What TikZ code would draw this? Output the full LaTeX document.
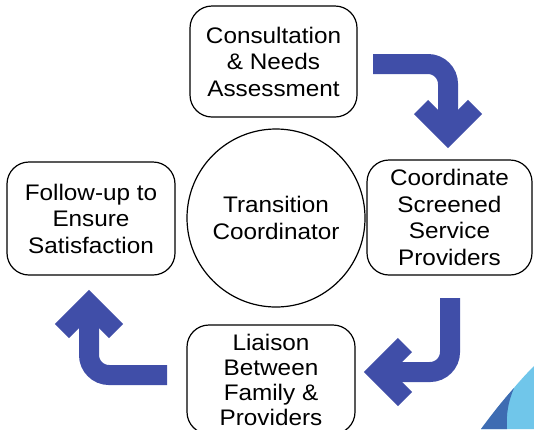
\documentclass[tikz,border=0pt]{standalone}
\usepackage{fontspec}
\setmainfont[FakeStretch=1.08]{Liberation Sans}
\definecolor{arrowblue}{RGB}{64,78,168}
\definecolor{swooshlight}{RGB}{112,198,234}
\definecolor{swooshdark}{RGB}{62,108,178}
\tikzset{
  stagebox/.style={draw=black, line width=1.2pt, rounded corners=22pt, align=center,
    inner sep=0pt, font=\fontsize{22.5}{26.5}\selectfont},
  hubcircle/.style={draw=black, line width=1.2pt, circle, align=center, inner sep=0pt,
    minimum size=178pt, font=\fontsize{22.5}{26.5}\selectfont},
  shaft/.style={draw=arrowblue, line width=20pt, line cap=butt, rounded corners=20pt},
  chevron/.style={draw=arrowblue, line width=20pt, line cap=butt, line join=miter}
}
\begin{document}
\begin{tikzpicture}[x=1pt,y=-1pt]
\useasboundingbox (0,0) rectangle (534,429);
\clip (0,0) rectangle (534,429);

% decorative swoosh, bottom right
\fill[swooshlight] (481,429) .. controls (500,405) and (515,385) .. (534,366) -- (534,429) -- cycle;
\fill[swooshdark] (481,429) .. controls (492,414) and (503,400) .. (514,388) .. controls (508,402) and (506,415) .. (507,429) -- cycle;

% nodes
\node[hubcircle] (hub) at (276,218) {Transition\\Coordinator};
\node[stagebox, minimum width=167pt, minimum height=111pt] (consult) at (273.5,61.5) {Consultation\\\& Needs\\Assessment};
\node[stagebox, minimum width=165pt, minimum height=115pt] (coord) at (449.5,217.5) {Coordinate\\Screened\\Service\\Providers};
\node[stagebox, minimum width=168pt, minimum height=113pt] (follow) at (91,218.5) {Follow-up to\\Ensure\\Satisfaction};
\node[stagebox, minimum width=168pt, minimum height=109pt, font=\fontsize{22.5}{25}\selectfont] (liaison) at (271,379.5) {Liaison\\Between\\Family \&\\Providers};

% arrow 1: consultation -> coordinate
\coordinate (a1s) at (373,64);
\coordinate (a1c) at (448,64);
\coordinate (a1t) at (448,134);
\coordinate (a1l) at (421,107);
\coordinate (a1r) at (475,107);
\draw[shaft] (a1s) -- (a1c) -- (a1t);
\draw[chevron] (a1l) -- (a1t) -- (a1r);

% arrow 2: coordinate -> liaison
\coordinate (a2s) at (450,298);
\coordinate (a2c) at (450,372);
\coordinate (a2t) at (378,372);
\coordinate (a2u) at (405,345);
\coordinate (a2d) at (405,399);
\draw[shaft] (a2s) -- (a2c) -- (a2t);
\draw[chevron] (a2u) -- (a2t) -- (a2d);

% arrow 3: liaison -> follow-up
\coordinate (a3s) at (167,375);
\coordinate (a3c) at (89,375);
\coordinate (a3t) at (89,304);
\coordinate (a3l) at (62,331);
\coordinate (a3r) at (116,331);
\draw[shaft] (a3s) -- (a3c) -- (a3t);
\draw[chevron] (a3l) -- (a3t) -- (a3r);
\end{tikzpicture}
\end{document}
